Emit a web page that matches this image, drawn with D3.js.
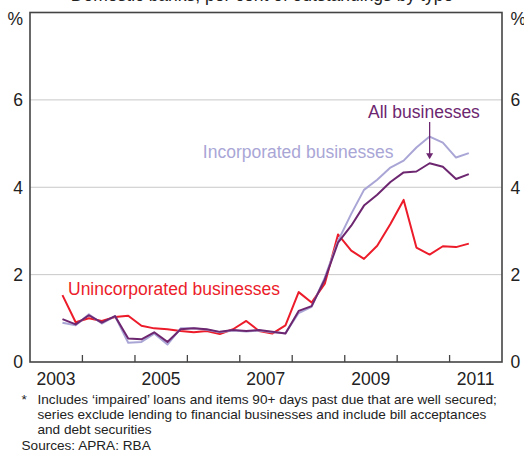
<!DOCTYPE html>
<meta charset="utf-8">
<title>Non-performing business loans</title>
<style>
body { margin: 0; background: #fff; }
svg { display: block; font-family: Arial, "Liberation Sans", sans-serif; }
.frame { fill: none; stroke: #444; stroke-width: 1.6px; }
.grid line { stroke: #c8c8c8; stroke-width: 1px; }
.line { fill: none; stroke-width: 2px; stroke-linejoin: round; }
.ticklab { font-size: 17.5px; fill: #222; }
.note { font-size: 13.6px; fill: #222; }
</style>
<svg id="chart" width="524" height="452"></svg>
<script src="https://d3js.org/d3.v7.min.js"></script>
<script>
// quarterly observations, Sep 2003 to Jun 2011
let quarters = ["2003Q3","2003Q4","2004Q1","2004Q2","2004Q3","2004Q4","2005Q1","2005Q2",
  "2005Q3","2005Q4","2006Q1","2006Q2","2006Q3","2006Q4","2007Q1","2007Q2",
  "2007Q3","2007Q4","2008Q1","2008Q2","2008Q3","2008Q4","2009Q1","2009Q2",
  "2009Q3","2009Q4","2010Q1","2010Q2","2010Q3","2010Q4","2011Q1","2011Q2"];

let unincorporated = [1.53,0.91,1.00,0.94,1.03,1.06,0.83,0.77,0.75,0.71,0.68,0.71,0.64,0.75,0.94,0.71,
  0.65,0.84,1.60,1.36,1.79,2.92,2.55,2.36,2.66,3.16,3.71,2.62,2.46,2.65,2.63,2.71];
let allBusinesses = [0.98,0.86,1.07,0.90,1.05,0.54,0.52,0.68,0.46,0.75,0.77,0.75,0.69,0.73,0.71,0.73,
  0.69,0.65,1.17,1.28,1.89,2.73,3.12,3.58,3.83,4.12,4.34,4.36,4.55,4.47,4.19,4.30];
let incorporated = [0.90,0.84,1.09,0.88,1.05,0.44,0.46,0.65,0.40,0.77,0.77,0.74,0.68,0.72,0.70,0.72,
  0.68,0.66,1.12,1.26,1.93,2.77,3.39,3.94,4.17,4.45,4.61,4.91,5.16,5.02,4.68,4.78];

let yTicks = [0, 2, 4, 6];
let yearLabels = [2003, 2005, 2007, 2009, 2011];

let svg = d3.select("#chart"),
    margin = {top: 12.5, right: 22, bottom: 90, left: 30},
    width = 524 - margin.left - margin.right,
    height = 452 - margin.top - margin.bottom;

// mid-quarter date
let qDate = q => new Date(+q.slice(0, 4), (+q.slice(5) - 1) * 3 + 1, 15);

let x = d3.scaleTime()
    .domain([new Date(2003, 0, 1), new Date(2012, 0, 1)])
    .range([margin.left, margin.left + width]);
let y = d3.scaleLinear().domain([0, 8]).range([margin.top + height, margin.top]);

let series = [
  {name: "Unincorporated businesses", values: unincorporated, color: "#ec1c2a"},
  {name: "Incorporated businesses", values: incorporated, color: "#a9a6d6"},
  {name: "All businesses", values: allBusinesses, color: "#6d2770"}
];

// title (cut off at the top edge)
svg.append("text")
    .attr("x", 262).attr("y", 1)
    .attr("text-anchor", "middle")
    .style("font-size", "17.5px").attr("fill", "#222")
    .text("Domestic banks, per cent of outstandings by type");

// gridlines
svg.append("g").attr("class", "grid")
  .selectAll("line").data([2, 4, 6]).enter().append("line")
    .attr("x1", x.range()[0]).attr("x2", x.range()[1])
    .attr("y1", d => y(d)).attr("y2", d => y(d));

// lines
let line = d3.line()
    .x((d, i) => x(qDate(quarters[i])))
    .y(d => y(d));

svg.append("g").selectAll("path").data(series).enter().append("path")
    .attr("class", "line")
    .attr("stroke", s => s.color)
    .attr("d", s => line(s.values));

// frame
svg.append("rect").attr("class", "frame")
    .attr("x", x.range()[0]).attr("y", y(8))
    .attr("width", x.range()[1] - x.range()[0])
    .attr("height", y(0) - y(8));

// year ticks along the bottom
let yearTicks = d3.range(2004, 2012).map(yr => new Date(yr, 0, 1));
svg.append("g").selectAll("line").data(yearTicks).enter().append("line")
    .attr("x1", d => x(d)).attr("x2", d => x(d))
    .attr("y1", y(0)).attr("y2", y(0) - 7)
    .attr("stroke", "#444").attr("stroke-width", 1.3);

svg.append("g").selectAll("text").data(yearLabels).enter().append("text")
    .attr("class", "ticklab")
    .attr("x", d => x(new Date(d, 6, 1)))
    .attr("y", y(0) + 23)
    .attr("text-anchor", "middle")
    .text(d => d);

// y tick labels both sides
["left", "right"].forEach(side => {
  let g = svg.append("g")
      .attr("text-anchor", side === "left" ? "end" : "start");
  let xp = side === "left" ? x.range()[0] - 7 : x.range()[1] + 8.5;
  g.selectAll("text").data(yTicks).enter().append("text")
      .attr("class", "ticklab")
      .attr("x", xp).attr("y", d => y(d))
      .attr("dy", "0.36em")
      .text(d => d);
  g.append("text").attr("class", "ticklab")
      .attr("x", xp).attr("y", 25)
      .text("%");
});

// series labels
svg.append("text").style("font-size", "17.5px").attr("fill", series[0].color)
    .attr("x", 68).attr("y", 295).text(series[0].name);
svg.append("text").style("font-size", "17.5px").attr("fill", series[1].color)
    .attr("x", 393.5).attr("y", 157.5).attr("text-anchor", "end").text(series[1].name);
svg.append("text").style("font-size", "17.5px").attr("fill", series[2].color)
    .attr("x", 368).attr("y", 117.5).text(series[2].name);

// arrow to the all businesses peak
let ax = x(qDate("2010Q3")), ay = y(4.55) - 4;
svg.append("line")
    .attr("x1", ax).attr("x2", ax).attr("y1", 122).attr("y2", ay - 5)
    .attr("stroke", series[2].color).attr("stroke-width", 1.3);
svg.append("path")
    .attr("d", `M${ax - 3.5},${ay - 6}L${ax + 3.5},${ay - 6}L${ax},${ay}Z`)
    .attr("fill", series[2].color);

// notes
let notes = svg.append("g").attr("class", "note");
notes.append("text").attr("x", 21.5).attr("y", 404).text("*");
[
  "Includes \u2018impaired\u2019 loans and items 90+ days past due that are well secured;",
  "series exclude lending to financial businesses and include bill acceptances",
  "and debt securities"
].forEach((t, i) => {
  notes.append("text").attr("x", 37.5).attr("y", 404 + i * 15).text(t);
});
notes.append("text").attr("x", 21.5).attr("y", 449.5).text("Sources: APRA: RBA");
</script>
